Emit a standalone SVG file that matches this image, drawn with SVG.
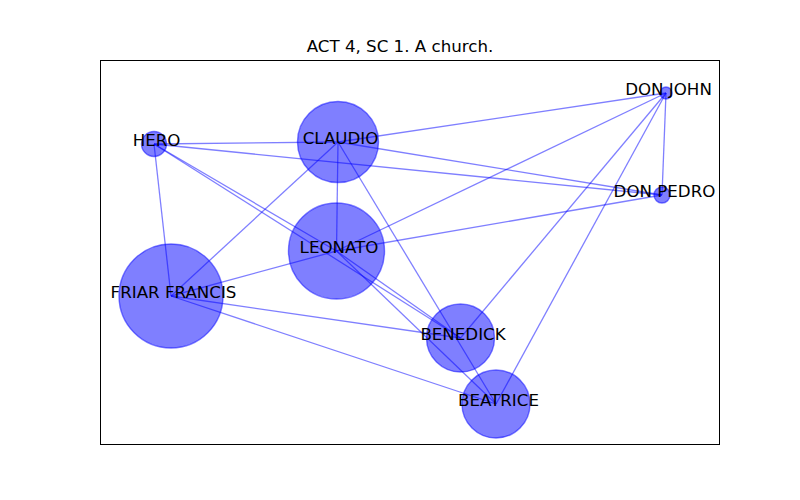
<svg xmlns="http://www.w3.org/2000/svg" width="800" height="500" viewBox="0 0 800 500">
<style>
.e{stroke:#0000ff;stroke-opacity:0.5;stroke-width:1.3;fill:none}
.n{fill:#0000ff;fill-opacity:0.5;stroke:#0000ff;stroke-opacity:0.5;stroke-width:1.4}
.l{font-family:"DejaVu Sans",sans-serif;font-size:16.67px;fill:#000;text-anchor:middle}
</style>
<rect width="800" height="500" fill="#fff"/>
<text class="l" x="400" y="52">ACT 4, SC 1. A church.</text>
<rect x="100.5" y="60.5" width="619" height="384" fill="none" stroke="#000" stroke-width="1"/>
<g id="edges">
<line class="e" x1="666" y1="93" x2="338" y2="142"/>
<line class="e" x1="666" y1="93" x2="336.5" y2="251"/>
<line class="e" x1="666" y1="93" x2="460.5" y2="338"/>
<line class="e" x1="666" y1="93" x2="496" y2="404"/>
<line class="e" x1="666" y1="93" x2="662" y2="195"/>
<line class="e" x1="662" y1="195" x2="338" y2="142"/>
<line class="e" x1="662" y1="195" x2="154" y2="144"/>
<line class="e" x1="662" y1="195" x2="336.5" y2="251"/>
<line class="e" x1="154" y1="144" x2="338" y2="142"/>
<line class="e" x1="154" y1="144" x2="171" y2="296"/>
<line class="e" x1="154" y1="144" x2="336.5" y2="251"/>
<line class="e" x1="154" y1="144" x2="460.5" y2="338"/>
<line class="e" x1="171" y1="296" x2="338" y2="142"/>
<line class="e" x1="171" y1="296" x2="336.5" y2="251"/>
<line class="e" x1="171" y1="296" x2="460.5" y2="338"/>
<line class="e" x1="171" y1="296" x2="496" y2="404"/>
<line class="e" x1="338" y1="142" x2="336.5" y2="251"/>
<line class="e" x1="338" y1="142" x2="496" y2="404"/>
<line class="e" x1="336.5" y1="251" x2="460.5" y2="338"/>
<line class="e" x1="336.5" y1="251" x2="496" y2="404"/>
</g>
<g id="node-don-john"><circle class="n" cx="666" cy="93" r="6"/><text class="l" x="668.5" y="95">DON JOHN</text></g>
<g id="node-hero"><circle class="n" cx="154" cy="144" r="12.5"/><text class="l" x="156.5" y="146">HERO</text></g>
<g id="node-claudio"><circle class="n" cx="338" cy="142" r="40.5"/><text class="l" x="340.5" y="144">CLAUDIO</text></g>
<g id="node-don-pedro"><circle class="n" cx="662" cy="195" r="8"/><text class="l" x="664.5" y="197">DON PEDRO</text></g>
<g id="node-leonato"><circle class="n" cx="336.5" cy="251" r="48"/><text class="l" x="339" y="253">LEONATO</text></g>
<g id="node-friar-francis"><circle class="n" cx="171" cy="296" r="52"/><text class="l" x="173.5" y="298">FRIAR FRANCIS</text></g>
<g id="node-benedick"><circle class="n" cx="460.5" cy="338" r="34"/><text class="l" x="463" y="340">BENEDICK</text></g>
<g id="node-beatrice"><circle class="n" cx="496" cy="404" r="34"/><text class="l" x="498.5" y="406">BEATRICE</text></g>
</svg>
